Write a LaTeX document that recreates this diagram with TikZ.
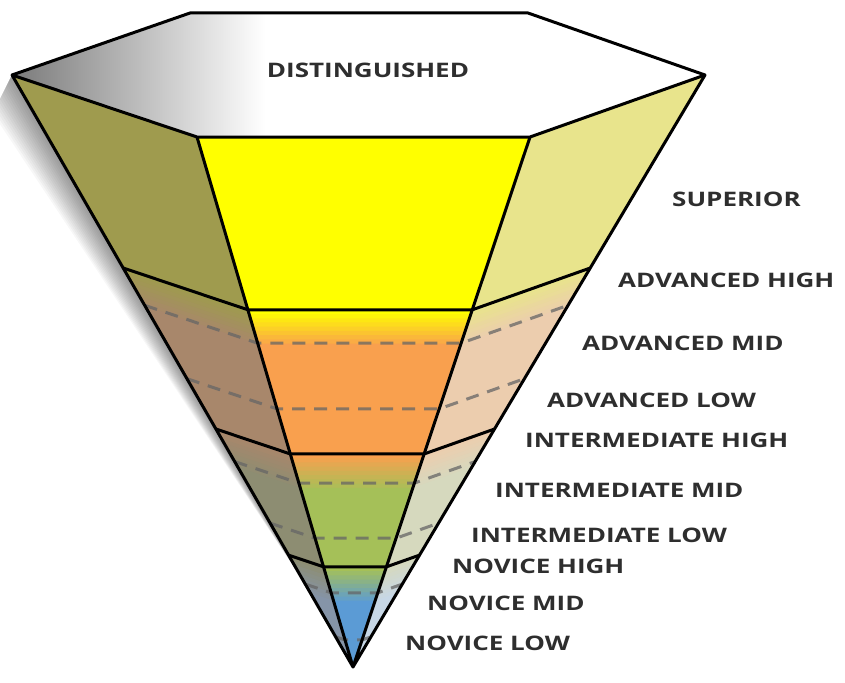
\documentclass[tikz,border=0pt]{standalone}
\usepackage{fontspec}
\setmainfont{Open Sans}
\newfontfamily\lvlfont{Open Sans}[FakeStretch=1.3]
\usetikzlibrary{calc}

\definecolor{supF}{HTML}{FFFF00}
\definecolor{supL}{HTML}{9F9B4E}
\definecolor{supR}{HTML}{E8E48C}
\definecolor{advF}{HTML}{F9A04E}
\definecolor{advL}{HTML}{A8876B}
\definecolor{advR}{HTML}{ECCDAE}
\definecolor{intF}{HTML}{A5C058}
\definecolor{intL}{HTML}{8D8D72}
\definecolor{intR}{HTML}{D6D9BE}
\definecolor{novF}{HTML}{5B9BD5}
\definecolor{novL}{HTML}{8594A8}
\definecolor{novR}{HTML}{C7D7E6}

% one slice of the cone between two levels: front, left, right
\newcommand{\band}[5]{%
  \fill[#3] ($(BL)!#1!(A)$) -- ($(BR)!#1!(A)$) -- ($(BR)!#2!(A)$) -- ($(BL)!#2!(A)$) -- cycle;
  \fill[#4] ($(L)!#1!(A)$) -- ($(BL)!#1!(A)$) -- ($(BL)!#2!(A)$) -- ($(L)!#2!(A)$) -- cycle;
  \fill[#5] ($(BR)!#1!(A)$) -- ($(R)!#1!(A)$) -- ($(R)!#2!(A)$) -- ($(BR)!#2!(A)$) -- cycle;
}

\begin{document}
\begin{tikzpicture}[x=1pt, y=-1pt, line join=round,
  edge/.style={line width=3pt},
  sub/.style={line width=3pt, dash pattern=on 13pt off 9pt, black!60, opacity=0.75},
  lvl/.style={font={\fontsize{20}{24}\lvlfont\bfseries}, text=black!82, anchor=west, inner sep=0pt}]
  \useasboundingbox (0,0) rectangle (845,682);

  \coordinate (L) at (12,75);
  \coordinate (TL) at (190,13);
  \coordinate (TR) at (528,13);
  \coordinate (R) at (705,75);
  \coordinate (BR) at (530,137);
  \coordinate (BL) at (197,137);
  \coordinate (A) at (353,667);

  % soft shadow on the left
  \foreach \s in {2,4,...,32}
    \fill[black, opacity=0.032] (L) -- ($(L)+(-0.6*\s,1.2*\s)$) -- ($(A)+(-0.7*\s,-1.4*\s)$) -- (A) -- cycle;

  % top face
  \fill[white] (L) -- (TL) -- (TR) -- (R) -- (BR) -- (BL) -- cycle;
  \begin{scope}
    \clip (L) -- (TL) -- (TR) -- (R) -- (BR) -- (BL) -- cycle;
    \shade[left color=black!52, right color=white] (12,0) rectangle (265,140);
  \end{scope}

  % coloured levels, each one fading in from the level above
  \foreach \ta/\tb/\pf/\pl/\pr/\cf/\cl/\cr in {
      0/0.326/supF/supL/supR/supF/supL/supR,
      0.326/0.598/supF/supL/supR/advF/advL/advR,
      0.598/0.811/advF/advL/advR/intF/intL/intR,
      0.811/1/intF/intL/intR/novF/novL/novR}
    \foreach \i in {0,...,8}{
      \pgfmathsetmacro{\ts}{\ta+0.008*\i}
      \pgfmathtruncatemacro{\p}{12.5*\i}
      \colorlet{mixF}{\cf!\p!\pf}
      \colorlet{mixL}{\cl!\p!\pl}
      \colorlet{mixR}{\cr!\p!\pr}
      \band{\ts}{\tb}{mixF}{mixL}{mixR}
    }

  % sub-levels
  \foreach \t in {0.389,0.513,0.653,0.757,0.860,0.949}
    \draw[sub] ($(L)!\t!(A)$) -- ($(BL)!\t!(A)$) -- ($(BR)!\t!(A)$) -- ($(R)!\t!(A)$);

  % outline
  \draw[edge] (L) -- (TL) -- (TR) -- (R) -- (BR) -- (BL) -- cycle;
  \draw[edge] (L) -- (A) -- (R) (BL) -- (A) -- (BR);
  \foreach \t in {0.326,0.598,0.811}
    \draw[edge] ($(L)!\t!(A)$) -- ($(BL)!\t!(A)$) -- ($(BR)!\t!(A)$) -- ($(R)!\t!(A)$);

  \node[lvl, anchor=center] (distinguished) at (368,70) {DISTINGUISHED};
  \node[lvl] (superior) at (672,199) {SUPERIOR};
  \node[lvl] (advhigh) at (618,280) {ADVANCED HIGH};
  \node[lvl] (advmid) at (582,343) {ADVANCED MID};
  \node[lvl] (advlow) at (547,400) {ADVANCED LOW};
  \node[lvl] (inthigh) at (525,440) {INTERMEDIATE HIGH};
  \node[lvl] (intmid) at (495,490) {INTERMEDIATE MID};
  \node[lvl] (intlow) at (471,535) {INTERMEDIATE LOW};
  \node[lvl] (novhigh) at (452,566) {NOVICE HIGH};
  \node[lvl] (novmid) at (427,603) {NOVICE MID};
  \node[lvl] (novlow) at (405,643) {NOVICE LOW};
\end{tikzpicture}
\end{document}
